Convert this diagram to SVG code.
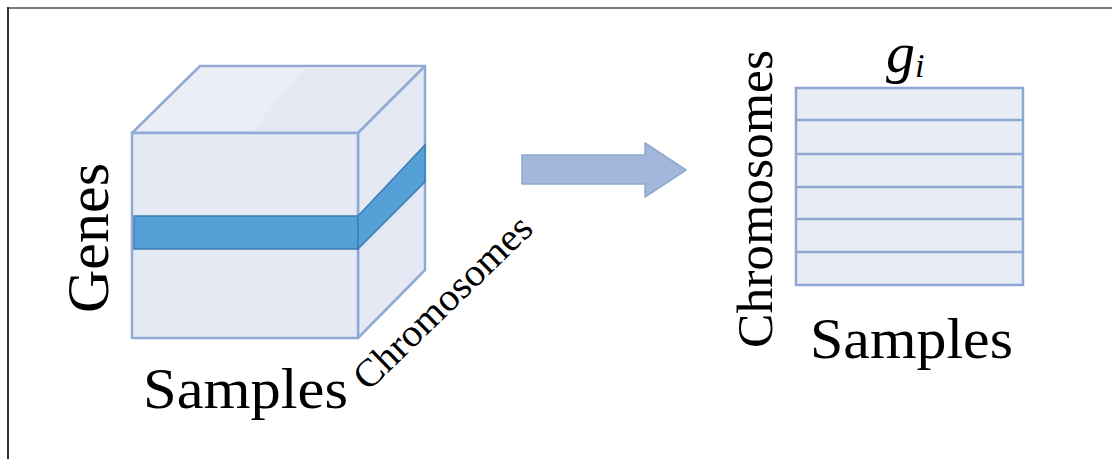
<svg xmlns="http://www.w3.org/2000/svg" width="1112" height="459" viewBox="0 0 1112 459">
<style>
.face{stroke:#90aad6;stroke-width:2.5;stroke-linejoin:round}
.band{fill:#55a0d7;stroke:#3e7db4;stroke-width:1.5}
.lbl{font-family:"Liberation Serif","Times New Roman",serif;fill:#000}
.grid{fill:#e8ecf5;stroke:#8ea7d4;stroke-width:2.5}
.row{stroke:#8ea7d4;stroke-width:2.5}
</style>
<rect x="0" y="0" width="1112" height="459" fill="#fff"/>
<line x1="7" y1="8" x2="1112" y2="8" stroke="#7a7a7a" stroke-width="2"/>
<line x1="8" y1="7" x2="8" y2="459" stroke="#333" stroke-width="2"/>

<g id="cube">
  <polygon class="face" points="132,133 200,66 425,66 358,133" fill="#ebeef6"/>
  <polygon points="305,67 423,67 356,131 252,131" fill="#e6e8f4"/>
  <polygon class="face" points="358,133 425,66 425,270 358,338" fill="#e5e9f3"/>
  <rect class="face" x="132" y="133" width="226" height="205" fill="#e6eaf4"/>
  <polygon class="band" points="134,216 358,216 358,249 134,249"/>
  <polygon class="band" points="358,216 425,145 425,182 358,249"/>
</g>

<g id="label-genes"><text class="lbl" font-size="60" transform="translate(108,313) rotate(-90)" textLength="150" lengthAdjust="spacingAndGlyphs">Genes</text></g>
<g id="label-samples-left"><text class="lbl" font-size="57" x="143" y="408" textLength="205" lengthAdjust="spacingAndGlyphs">Samples</text></g>
<g id="label-chromosomes-diag"><text class="lbl" font-size="39" transform="translate(368,392) rotate(-44)" textLength="232" lengthAdjust="spacingAndGlyphs">Chromosomes</text></g>

<g id="connectors">
  <polygon points="522,155 645,155 645,143 686,170 645,197 645,184 522,184" fill="#a3b7da" stroke="#8fa8d2" stroke-width="1.5" stroke-linejoin="round"/>
</g>

<g id="matrix">
  <rect class="grid" x="796" y="88" width="227" height="197"/>
  <line class="row" x1="796" y1="120" x2="1023" y2="120"/>
  <line class="row" x1="796" y1="154" x2="1023" y2="154"/>
  <line class="row" x1="796" y1="187" x2="1023" y2="187"/>
  <line class="row" x1="796" y1="219" x2="1023" y2="219"/>
  <line class="row" x1="796" y1="252" x2="1023" y2="252"/>
</g>

<g id="label-gi"><text class="lbl" font-size="58" font-style="italic" x="886" y="72">g<tspan font-size="34" dy="5">i</tspan></text></g>
<g id="label-chromosomes-right"><text class="lbl" font-size="50" transform="translate(772,348) rotate(-90)" textLength="298" lengthAdjust="spacingAndGlyphs">Chromosomes</text></g>
<g id="label-samples-right"><text class="lbl" font-size="57" x="810" y="358" textLength="203" lengthAdjust="spacingAndGlyphs">Samples</text></g>
</svg>
